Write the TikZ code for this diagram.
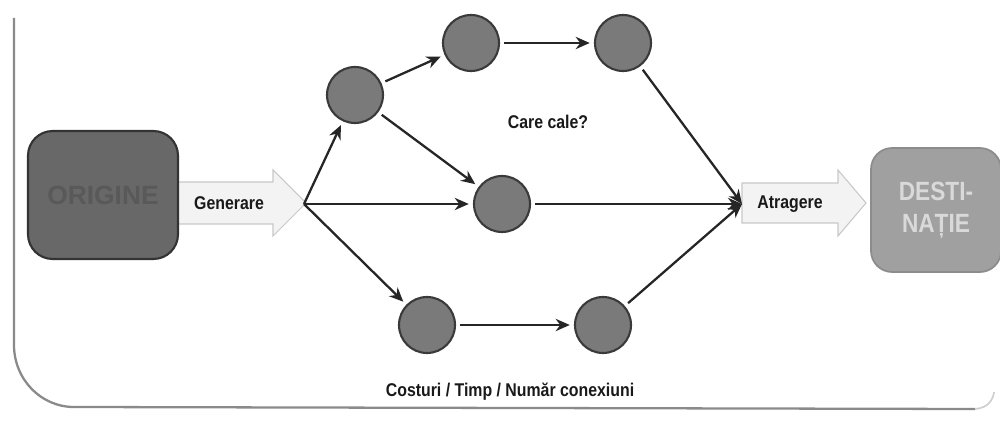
\documentclass[tikz,border=0pt]{standalone}
\usepackage{fontspec}
\setmainfont{Liberation Sans}
\newfontfamily\lblfont[FakeStretch=0.86]{Liberation Sans}
\usetikzlibrary{arrows.meta}
\definecolor{circfill}{HTML}{7A7A7A}
\definecolor{circline}{HTML}{3A3A3A}
\definecolor{origfill}{HTML}{686868}
\definecolor{destfill}{HTML}{A0A0A0}
\definecolor{framecol}{HTML}{8A8A8A}
\definecolor{barrowfill}{HTML}{F3F3F3}
\definecolor{barrowline}{HTML}{C8C8C8}
\tikzset{
  nd/.style={circle,fill=circfill,draw=circline,line width=1.2pt,minimum size=1.12cm,inner sep=0pt,outer sep=3pt},
  conn/.style={-{Stealth[length=8pt,width=7pt]},line width=1.3pt,draw=black!85},
  lbl/.style={font=\lblfont\bfseries\fontsize{10.5}{12}\selectfont,text=black!90},
  barrow/.style={fill=barrowfill,draw=barrowline,line width=0.6pt},
}
\begin{document}
\begin{tikzpicture}[x=0.02cm,y=-0.02cm]
\useasboundingbox (0,0) rectangle (1000,421);
% outer frame
\draw[framecol,line width=1.3pt] (14,18) -- (14,345) arc[start angle=180,end angle=270,x radius=60,y radius=-62] -- (975,409);
\draw[framecol!40,line width=1pt] (975,409) .. controls (988,408) and (993,400) .. (994,392);
% block arrows
\draw[barrow] (178,182) -- (273,182) -- (273,170) -- (306,203) -- (273,236) -- (273,224) -- (178,224) -- cycle;
\draw[barrow] (742,183) -- (838,183) -- (838,170) -- (866,203) -- (838,236) -- (838,223) -- (742,223) -- cycle;
\coordinate (gtip) at (304,204);
\coordinate (atail) at (742,204);
% boxes
\node[draw=black!80,fill=origfill,line width=1.2pt,rounded corners=14pt,minimum width=3cm,minimum height=2.56cm,
      font=\bfseries\fontsize{15}{17}\selectfont,text=black!65] (orig) at (103,195) {ORIGINE};
\node[draw=black!45,fill=destfill,line width=1pt,rounded corners=12pt,minimum width=2.6cm,minimum height=2.48cm,
      align=center,font=\lblfont\bfseries\fontsize{15}{18}\selectfont,text=white!85!black] (dest) at (936,210) {DESTI-\\NAȚIE};
% labels
\node[lbl] (gen) at (229,203) {Generare};
\node[lbl] (atr) at (790,204) {Atragere};
\node[lbl] (care) at (548,122) {Care cale?};
\node[lbl] (cost) at (510,392) {Costuri / Timp / Număr conexiuni};
% circles
\node[nd] (A) at (355,95) {};
\node[nd] (B) at (471,43) {};
\node[nd] (C) at (623,43) {};
\node[nd] (D) at (502,204) {};
\node[nd] (E) at (427,325) {};
\node[nd] (F) at (603,325) {};
% connectors
\draw[conn] (gtip) -- (A);
\draw[conn] (gtip) -- (D);
\draw[conn] (gtip) -- (E);
\draw[conn] (A) -- (B);
\draw[conn] (A) -- (D);
\draw[conn] (B) -- (C);
\draw[conn] (E) -- (F);
\draw[conn] (C) -- (atail);
\draw[conn] (D) -- (atail);
\draw[conn] (F) -- (atail);
\end{tikzpicture}
\end{document}
